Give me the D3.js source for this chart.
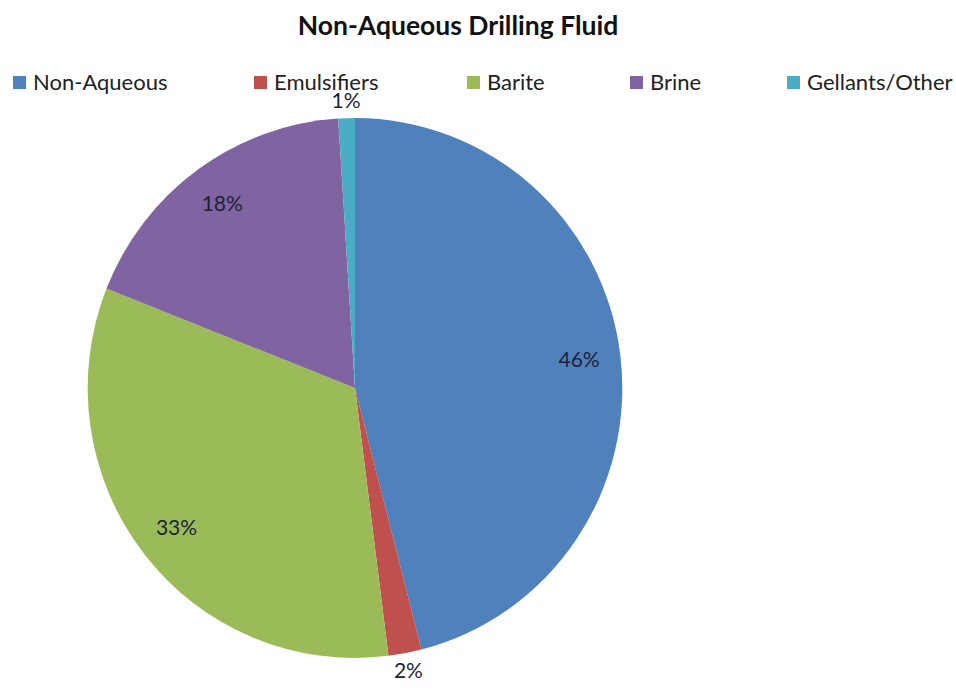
<!DOCTYPE html>
<html><head><meta charset="utf-8">
<script src="https://cdn.jsdelivr.net/npm/d3@7"></script>
<style>body{margin:0;background:#fff}svg{display:block}</style>
</head><body>
<svg id="c" width="956" height="690"></svg>
<script>
const categories = ["Non-Aqueous", "Emulsifiers", "Barite", "Brine", "Gellants/Other"];
const values = [46, 2, 33, 18, 1];
const colors = ["#4F81BD", "#C0504D", "#9BBB59", "#8064A2", "#4BACC6"];
const legendX = [13, 254, 467, 630, 787];
const outsideLabel = [false, true, false, false, true];

const svg = d3.select("#c");
const font = "Lato, 'Open Sans', sans-serif";
svg.append("text").attr("x", 458).attr("y", 35).attr("text-anchor", "middle")
  .attr("font-family", font).attr("font-weight", "bold").attr("font-size", 26.5)
  .attr("fill", "#111").text("Non-Aqueous Drilling Fluid");

const lg = svg.append("g");
categories.forEach((c, i) => {
  lg.append("rect").attr("x", legendX[i]).attr("y", 76).attr("width", 13).attr("height", 13).attr("fill", colors[i]);
  lg.append("text").attr("x", legendX[i] + 20).attr("y", 90).attr("font-family", font)
    .attr("font-size", 22).attr("fill", "#222").text(c);
});

const R = 270;
const g = svg.append("g").attr("transform", "translate(355,388) scale(0.99,1)");
const pie = d3.pie().sort(null).value(d => d);
const arcs = pie(values);
const arc = d3.arc().innerRadius(0).outerRadius(R);
g.selectAll("path").data(arcs).enter().append("path")
  .attr("d", arc).attr("fill", (d, i) => colors[i]).attr("stroke", "none");

const inArc = d3.arc().innerRadius(R * 0.845).outerRadius(R * 0.845);
const outArc = d3.arc().innerRadius(R + 18).outerRadius(R + 18);
g.selectAll("text.lbl").data(arcs).enter().append("text")
  .attr("class", "lbl")
  .attr("transform", (d, i) => {
    const p = (outsideLabel[i] ? outArc : inArc).centroid(d);
    return `translate(${p[0]},${p[1]}) scale(${1/0.99},1)`;
  })
  .attr("text-anchor", "middle").attr("dy", "0.35em")
  .attr("font-family", font).attr("font-size", 21).attr("fill", "#1f1f3a")
  .text((d, i) => values[i] + "%");
</script>
</body></html>
